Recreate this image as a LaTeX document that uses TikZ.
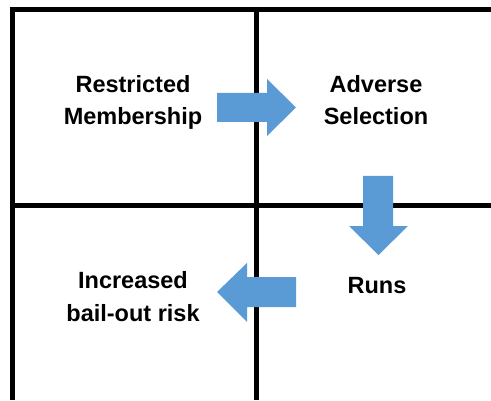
\documentclass[tikz,border=0pt]{standalone}
\usepackage{fontspec}
\setmainfont{Liberation Sans}
\begin{document}
\begin{tikzpicture}[x=1pt,y=1pt,
  gridline/.style={line width=5pt,black},
  blockarrow/.style={fill={rgb,255:red,91;green,155;blue,213},draw=none},
  label/.style={font=\fontsize{23.5}{32.5}\selectfont\bfseries,align=center,text=black,anchor=base,inner sep=0pt}]
\useasboundingbox (0,0) rectangle (491,400);
\fill[white] (0,0) rectangle (491,400);
% grid
\draw[gridline] (9.5,390) -- (491,390);
\draw[gridline] (9.5,195) -- (491,195);
\draw[gridline] (12,392.5) -- (12,0);
\draw[gridline] (256,392.5) -- (256,0);
% texts
\node[label] (rm) at (133,275) {Restricted\\Membership};
\node[label] (as) at (376,275) {Adverse\\Selection};
\node[label] (ru) at (377,107) {Runs};
\node[label] (ib) at (133,79) {Increased\\bail-out risk};
% block arrows
\fill[blockarrow] (217,307) -- (267,307) -- (267,321) -- (296,292.5) -- (267,264) -- (267,278) -- (217,278) -- cycle;
\fill[blockarrow] (363,224) -- (393,224) -- (393,174) -- (408,174) -- (378.5,145) -- (349,174) -- (363,174) -- cycle;
\fill[blockarrow] (296,123) -- (247,123) -- (247,137) -- (217,108) -- (247,78) -- (247,93) -- (296,93) -- cycle;
\end{tikzpicture}
\end{document}
